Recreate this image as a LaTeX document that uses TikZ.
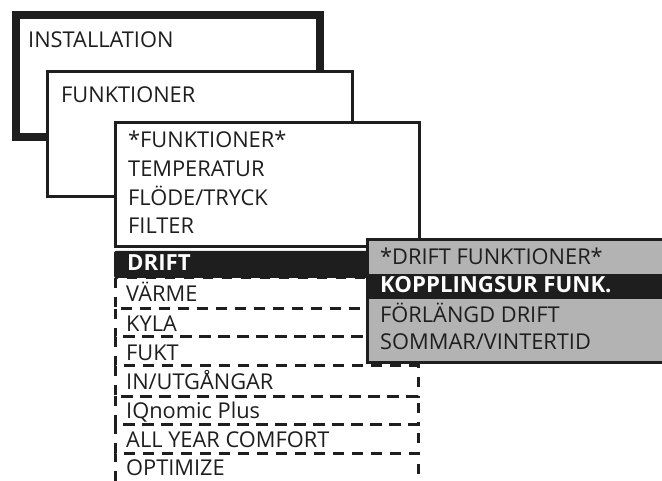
\documentclass[tikz,border=0pt]{standalone}
\usepackage{fontspec}
\setmainfont{Open Sans}
\definecolor{ink}{HTML}{1E1E1E}
\definecolor{panel}{HTML}{B3B3B3}
\begin{document}
\begin{tikzpicture}[x=1pt,y=-1pt,
  txt/.style={anchor=base west,inner sep=0pt,text=ink,font=\fontsize{21.8}{24}\selectfont},
  btxt/.style={anchor=base west,inner sep=0pt,text=white,font=\fontsize{22.2}{24}\selectfont\bfseries},
  frame/.style={draw=ink,line width=3pt,fill=white},
  row/.style={draw=ink,line width=3pt,dash pattern=on 10pt off 9pt}]
\useasboundingbox (0,0) rectangle (662,481);
% outer boxes
\draw[draw=ink,line width=8pt,fill=white] (16,15) rectangle (320,137);
\node[txt] (inst) at (28,48) {INSTALLATION};
\draw[frame] (47,72) rectangle (352,197);
\node[txt] (funk) at (61,103) {FUNKTIONER};
\draw[frame] (115,123) rectangle (419,247);
\node[txt] (f0) at (128,148) {*FUNKTIONER*};
\node[txt] (f1) at (128,177) {TEMPERATUR};
\node[txt] (f2) at (128,206) {FLÖDE/TRYCK};
\node[txt] (f3) at (128,234) {FILTER};
% dashed rows
\foreach \a/\b in {278/309,309/337,337/366,366/396,396/424,424/453}
  \draw[row] (115,\a) rectangle (418,\b);
\draw[row] (115,500) -- (115,453) -- (418,453) -- (418,500);
% DRIFT bar
\fill[ink,rounded corners=2pt] (114,251) rectangle (380,278);
\node[btxt] (drift) at (127,271) {DRIFT};
\node[txt] (r1) at (126,302) {VÄRME};
\node[txt] (r2) at (126,332) {KYLA};
\node[txt] (r3) at (126,360) {FUKT};
\node[txt] (r4) at (126,389) {IN/UTGÅNGAR};
\node[txt] (r5) at (126,418) {IQnomic Plus};
\node[txt] (r6) at (126,447) {ALL YEAR COMFORT};
\node[txt] (r7) at (126,475) {OPTIMIZE};
% grey submenu
\draw[draw=ink,line width=3pt,fill=panel] (367,240) rectangle (680,363);
\fill[ink] (368.5,274) rectangle (680,299);
\node[txt] (d0) at (380,265) {*DRIFT FUNKTIONER*};
\node[btxt] (d1) at (380,293) {KOPPLINGSUR FUNK.};
\node[txt] (d2) at (380,323) {FÖRLÄNGD DRIFT};
\node[txt] (d3) at (380,350) {SOMMAR/VINTERTID};
\end{tikzpicture}
\end{document}
